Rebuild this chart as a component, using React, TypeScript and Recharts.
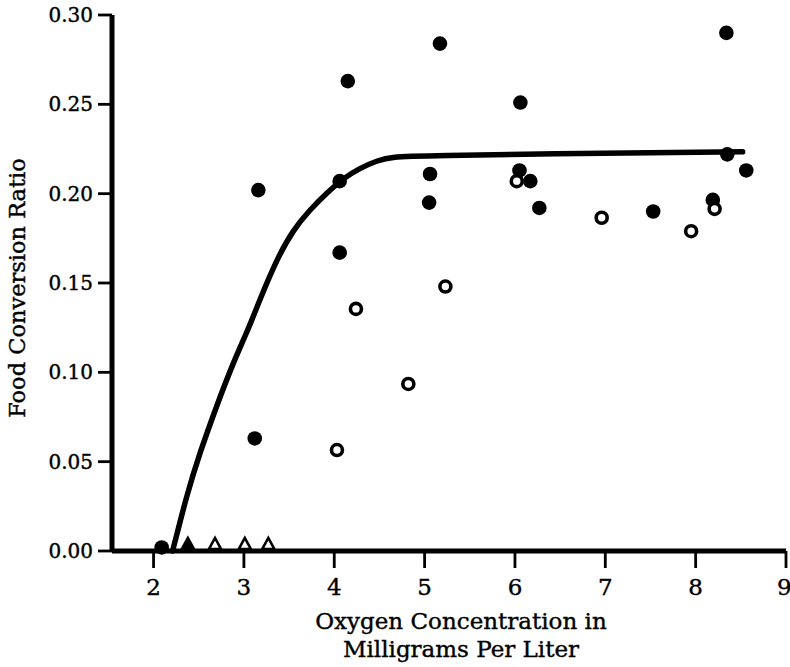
import React from 'react';
import { ComposedChart, Line, Scatter, XAxis, YAxis } from 'recharts';

const xTicks = [2, 3, 4, 5, 6, 7, 8, 9];
const yTicks = [0, 0.05, 0.1, 0.15, 0.2, 0.25, 0.3];

const filledCircles = [
  { x: 2.09, y: 0.002 },
  { x: 3.16, y: 0.202 },
  { x: 3.12, y: 0.063 },
  { x: 4.06, y: 0.207 },
  { x: 4.06, y: 0.167 },
  { x: 4.15, y: 0.263 },
  { x: 5.17, y: 0.284 },
  { x: 6.06, y: 0.251 },
  { x: 5.06, y: 0.211 },
  { x: 5.05, y: 0.195 },
  { x: 6.05, y: 0.213 },
  { x: 6.17, y: 0.207 },
  { x: 6.27, y: 0.192 },
  { x: 7.53, y: 0.19 },
  { x: 8.19, y: 0.1965 },
  { x: 8.34, y: 0.29 },
  { x: 8.35, y: 0.222 },
  { x: 8.56, y: 0.213 },
];

const openCircles = [
  { x: 6.02, y: 0.207 },
  { x: 6.96, y: 0.1865 },
  { x: 7.95, y: 0.179 },
  { x: 8.21, y: 0.1915 },
  { x: 5.23, y: 0.148 },
  { x: 4.24, y: 0.1355 },
  { x: 4.03, y: 0.0565 },
  { x: 4.82, y: 0.0935 },
];

const filledTriangles = [{ x: 2.38, y: 0 }];
const openTriangles = [
  { x: 2.68, y: 0 },
  { x: 3.01, y: 0 },
  { x: 3.27, y: 0 },
];

const curve = [
  { x: 2.21, y: 0 },
  { x: 2.252, y: 0.008 },
  { x: 2.363, y: 0.0304 },
  { x: 2.51, y: 0.0547 },
  { x: 2.695, y: 0.0808 },
  { x: 2.879, y: 0.1051 },
  { x: 3.045, y: 0.1237 },
  { x: 3.175, y: 0.1405 },
  { x: 3.36, y: 0.1629 },
  { x: 3.544, y: 0.1797 },
  { x: 3.729, y: 0.1909 },
  { x: 3.915, y: 0.2002 },
  { x: 4.099, y: 0.2086 },
  { x: 4.284, y: 0.2142 },
  { x: 4.469, y: 0.2185 },
  { x: 4.653, y: 0.2207 },
  { x: 4.949, y: 0.2212 },
  { x: 7.09, y: 0.2228 },
  { x: 8.52, y: 0.2234 },
];

const FONT = '"DejaVu Serif", serif';

const FilledDot = (props: any) => {
  const { cx, cy } = props;
  if (cx == null || cy == null) return null;
  return <circle cx={cx} cy={cy} r={7.3} fill="#000" />;
};

const OpenDot = (props: any) => {
  const { cx, cy } = props;
  if (cx == null || cy == null) return null;
  return <circle cx={cx} cy={cy} r={5.5} fill="#fff" stroke="#000" strokeWidth={3.6} />;
};

const Tri = (filled: boolean) => (props: any) => {
  const { cx, cy } = props;
  if (cx == null || cy == null) return null;
  const h = 11;
  const w = 6;
  const base = cy - 2;
  return (
    <path
      d={`M${cx - w},${base} L${cx + w},${base} L${cx},${base - h} Z`}
      fill={filled ? '#000' : '#fff'}
      stroke="#000"
      strokeWidth={2.6}
      strokeLinejoin="miter"
    />
  );
};

const XTitle = () => (
  <g>
    <text x={461} y={629} textAnchor="middle" fontFamily={FONT} fontSize={23} fill="#000" stroke="#000" strokeWidth={0.4}>
      Oxygen Concentration in
    </text>
    <text x={461} y={657} textAnchor="middle" fontFamily={FONT} fontSize={23} fill="#000" stroke="#000" strokeWidth={0.4}>
      Milligrams Per Liter
    </text>
  </g>
);

const YTitle = () => (
  <text
    x={25}
    y={288}
    transform="rotate(-90, 25, 288)"
    textAnchor="middle"
    fontFamily={FONT}
    fontSize={22.5}
    fill="#000"
    stroke="#000"
    strokeWidth={0.4}
  >
    Food Conversion Ratio
  </text>
);

export default function App() {
  return (
    <div style={{ position: 'absolute', left: 0, top: 0, background: '#fff' }}>
      <ComposedChart
        width={790}
        height={667}
        margin={{ top: 15, right: 4, bottom: 0, left: 0 }}
      >
        <XAxis
          type="number"
          dataKey="x"
          domain={[1.54, 9]}
          ticks={xTicks}
          allowDataOverflow
          height={116}
          stroke="#000"
          axisLine={{ stroke: '#000', strokeWidth: 5 }}
          tickLine={{ stroke: '#000', strokeWidth: 2.8 }}
          tickSize={17}
          tickMargin={11}
          tick={{ fill: '#000', fontFamily: FONT, fontSize: 23, stroke: '#000', strokeWidth: 0.4 }}
          label={<XTitle />}
        />
        <YAxis
          type="number"
          domain={[0, 0.3]}
          ticks={yTicks}
          width={112}
          stroke="#000"
          axisLine={{ stroke: '#000', strokeWidth: 5 }}
          tickLine={{ stroke: '#000', strokeWidth: 2.8 }}
          tickSize={14}
          tickMargin={5}
          tickFormatter={(v: number) => v.toFixed(2)}
          tick={{ fill: '#000', fontFamily: FONT, fontSize: 20, stroke: '#000', strokeWidth: 0.4 }}
          label={<YTitle />}
        />
        <Line
          data={curve}
          dataKey="y"
          type="basis"
          stroke="#000"
          strokeWidth={5.5}
          strokeLinecap="round"
          dot={false}
          activeDot={false}
          isAnimationActive={false}
        />
        <Scatter data={filledCircles} dataKey="y" shape={<FilledDot />} isAnimationActive={false} />
        <Scatter data={openCircles} dataKey="y" shape={<OpenDot />} isAnimationActive={false} />
        <Scatter data={filledTriangles} dataKey="y" shape={Tri(true)} isAnimationActive={false} />
        <Scatter data={openTriangles} dataKey="y" shape={Tri(false)} isAnimationActive={false} />
      </ComposedChart>
    </div>
  );
}
